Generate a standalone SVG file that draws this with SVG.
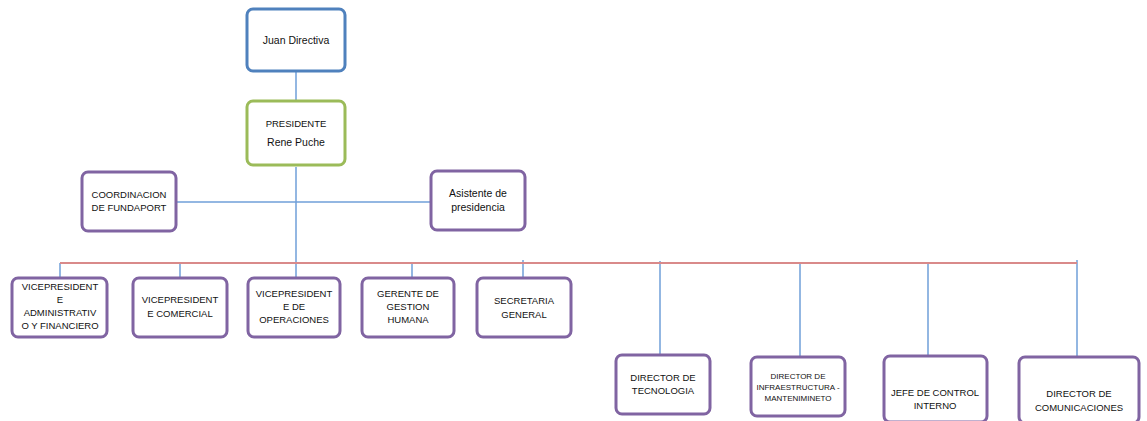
<svg xmlns="http://www.w3.org/2000/svg" width="1147" height="421" viewBox="0 0 1147 421">
<style>
.box{fill:#fff;stroke-width:3;}
.blue{stroke:#4F81BD;}
.green{stroke:#9BBB59;}
.purple{stroke:#8064A2;}
text{font-family:"Liberation Sans",Arial,sans-serif;font-size:9.5px;fill:#111;text-anchor:middle;}
text.lc{font-size:10.5px;}
.conn line{stroke:#6F9FD8;stroke-width:1.5;}
.conn line.red{stroke:#D98A8A;stroke-width:2;}
</style>
<rect width="1147" height="421" fill="#fff"/>
<g class="conn" id="connectors">
<line x1="296" y1="72" x2="296" y2="100"/>
<line x1="296" y1="167" x2="296" y2="278"/>
<line x1="177" y1="202" x2="430" y2="202"/>
<line x1="60" y1="263" x2="60" y2="277"/>
<line x1="180" y1="264" x2="180" y2="277"/>
<line x1="412" y1="264" x2="412" y2="278"/>
<line x1="523" y1="260" x2="523" y2="278"/>
<line x1="660" y1="261" x2="660" y2="355"/>
<line x1="800" y1="263" x2="800" y2="358"/>
<line x1="928" y1="263" x2="928" y2="356"/>
<line x1="1077" y1="260" x2="1077" y2="357"/>
<line class="red" x1="60" y1="263" x2="1077" y2="263"/>
</g>
<g id="juan"><rect class="box blue" x="247" y="9" width="98" height="62" rx="6"/><text class="lc" x="296" y="44">Juan Directiva</text></g>
<g id="presidente"><rect class="box green" x="247" y="101" width="98" height="64" rx="6"/><text x="296" y="127">PRESIDENTE</text><text class="lc" x="296" y="146">Rene Puche</text></g>
<g id="coordinacion"><rect class="box purple" x="82" y="172" width="94" height="59" rx="6"/><text x="129" y="198">COORDINACION</text><text x="129" y="211">DE FUNDAPORT</text></g>
<g id="asistente"><rect class="box purple" x="431" y="171" width="94" height="59" rx="6"/><text class="lc" x="478" y="197">Asistente de</text><text class="lc" x="478" y="211">presidencia</text></g>
<g id="vp-admin"><rect class="box purple" x="12" y="278" width="95" height="59" rx="6"/><text x="60" y="290">VICEPRESIDENT</text><text x="60" y="303">E</text><text x="60" y="316">ADMINISTRATIV</text><text x="60" y="329">O Y FINANCIERO</text></g>
<g id="vp-comercial"><rect class="box purple" x="133" y="278" width="94" height="59" rx="6"/><text x="180" y="303">VICEPRESIDENT</text><text x="180" y="317">E COMERCIAL</text></g>
<g id="vp-operaciones"><rect class="box purple" x="248" y="278" width="92" height="59" rx="6"/><text x="294" y="297">VICEPRESIDENT</text><text x="294" y="310">E DE</text><text x="294" y="323">OPERACIONES</text></g>
<g id="gestion-humana"><rect class="box purple" x="362" y="278" width="92" height="59" rx="6"/><text x="408" y="297">GERENTE DE</text><text x="408" y="310">GESTION</text><text x="408" y="323">HUMANA</text></g>
<g id="secretaria"><rect class="box purple" x="477" y="278" width="94" height="59" rx="6"/><text x="524" y="304">SECRETARIA</text><text x="524" y="318">GENERAL</text></g>
<g id="dir-tecnologia"><rect class="box purple" x="616" y="355" width="94" height="59" rx="6"/><text x="663" y="381">DIRECTOR DE</text><text x="663" y="394">TECNOLOGIA</text></g>
<g id="dir-infra"><rect class="box purple" x="751" y="357" width="94" height="59" rx="6"/><text x="798" y="379" style="font-size:8px">DIRECTOR DE</text><text x="798" y="390" style="font-size:8px">INFRAESTRUCTURA -</text><text x="798" y="401" style="font-size:8px">MANTENIMINETO</text></g>
<g id="jefe-control"><rect class="box purple" x="884" y="356" width="103" height="66" rx="6"/><text x="935" y="396">JEFE DE CONTROL</text><text x="935" y="409">INTERNO</text></g>
<g id="dir-comunicaciones"><rect class="box purple" x="1019" y="357" width="120" height="66" rx="6"/><text x="1079" y="397">DIRECTOR DE</text><text x="1079" y="411">COMUNICACIONES</text></g>
</svg>
